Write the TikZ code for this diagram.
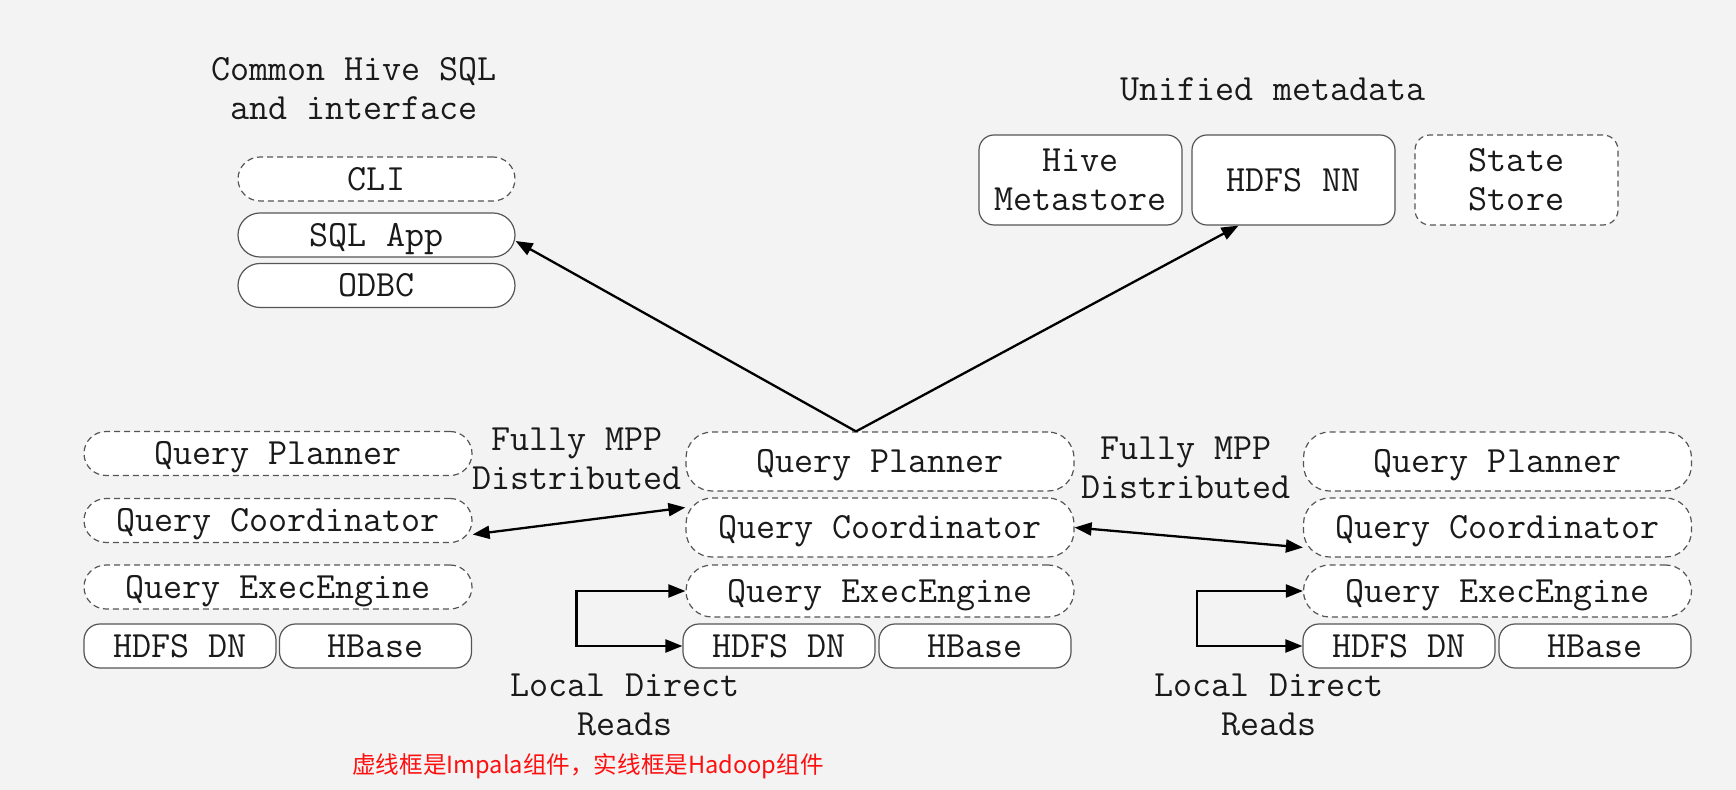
\documentclass[tikz,border=0pt]{standalone}
\usepackage{fontspec}
\newfontfamily\cjk{Noto Sans CJK SC}
\usetikzlibrary{arrows.meta}
\definecolor{bg}{HTML}{F3F3F3}
\definecolor{edge}{HTML}{555555}
\definecolor{txt}{HTML}{1A1A1A}
\definecolor{note}{HTML}{FF1010}
\begin{document}
\begin{tikzpicture}[x=0.5pt,y=-0.5pt,
  lbl/.style={font=\ttfamily\fontsize{18.5}{19.5}\selectfont, text=txt, align=center, inner sep=0pt},
  box/.style={lbl, draw=edge, line width=0.6pt, fill=white, rounded corners=#1},
  box/.default=11pt,
  dbox/.style={box=#1, dash pattern=on 3pt off 2pt},
  dbox/.default=11pt,
  one/.style={text height=11.3pt, text depth=0pt},
  pill/.style={one, minimum width=138.5pt, minimum height=22pt},
  meta/.style={minimum width=101.5pt, minimum height=45pt},
  lq/.style={one, minimum width=194pt, minimum height=22pt},
  mq/.style={one, minimum width=194pt, minimum height=29.5pt},
  mex/.style={one, minimum width=194pt, minimum height=26pt},
  half/.style={one, minimum width=96pt, minimum height=22pt},
  arr/.style={-{Triangle[length=8.5pt,width=6.5pt]}, line width=1.15pt, draw=black},
  darr/.style={{Triangle[length=8.5pt,width=6.5pt]}-{Triangle[length=8.5pt,width=6.5pt]}, line width=1.15pt, draw=black}
]
\fill[bg] (0,0) rectangle (1736,790);
\useasboundingbox (0,0) rectangle (1736,790);

% titles
\node[lbl] (t1) at (354,89) {Common Hive SQL\\and interface};
\node[lbl] (t2) at (1273,89) {Unified metadata};

% interface boxes
\node[dbox, pill] (cli) at (376.5,179) {CLI};
\node[box, pill] (sql) at (376.5,235) {SQL App};
\node[box, pill] (odbc) at (376.5,285.5) {ODBC};

% metadata boxes
\node[box=7.5pt, meta] (hm) at (1080.5,180) {Hive\\Metastore};
\node[box=7.5pt, meta, one] (nn) at (1293.5,180) {HDFS NN};
\node[dbox=7.5pt, meta] (ss) at (1516.5,180) {State\\Store};

% left column
\node[dbox, lq] (lp) at (278,453.5) {Query Planner};
\node[dbox, lq] (lc) at (278,520.5) {Query Coordinator};
\node[dbox, lq] (le) at (278,587) {Query ExecEngine};
\node[box=8pt, half] (ld) at (180,646) {HDFS DN};
\node[box=8pt, half] (lh) at (375.5,646) {HBase};

% middle column
\node[dbox=13pt, mq] (mp) at (880,461.5) {Query Planner};
\node[dbox=13pt, mq] (mc) at (880,527.5) {Query Coordinator};
\node[dbox=13pt, mex] (me) at (880,591) {Query ExecEngine};
\node[box=8pt, half] (md) at (779,646) {HDFS DN};
\node[box=8pt, half] (mh) at (975,646) {HBase};

% right column
\node[dbox=13pt, mq] (rp) at (1497.5,461.5) {Query Planner};
\node[dbox=13pt, mq] (rc) at (1497.5,527.5) {Query Coordinator};
\node[dbox=13pt, mex] (re) at (1497.5,591) {Query ExecEngine};
\node[box=8pt, half] (rd) at (1399,646) {HDFS DN};
\node[box=8pt, half] (rh) at (1595,646) {HBase};

% labels
\node[lbl] (f1) at (577,459) {Fully MPP\\Distributed};
\node[lbl] (f2) at (1186,467.5) {Fully MPP\\Distributed};
\node[lbl] (r1) at (625,704.5) {Local Direct\\Reads};
\node[lbl] (r2) at (1269,704.5) {Local Direct\\Reads};

\node[inner sep=0pt, text=note, font=\cjk\fontsize{11.8}{14}\selectfont] (nt) at (588,766) {虚线框是Impala组件，实线框是Hadoop组件};

% connectors
\coordinate (apex) at ([xshift=-12pt]mp.north);
\draw[arr] (apex) -- ([yshift=-3pt]sql.east);
\draw[arr] (apex) -- ([xshift=-27.5pt]nn.south);
\draw[darr] ([yshift=-7pt]lc.east) -- ([yshift=10pt]mc.west);
\draw[darr] (mc.east) -- ([yshift=-10pt]rc.west);
\draw[darr] (me.west) -- ++(-54.5pt,0) |- (md.west);
\draw[darr] (re.west) -- ++(-53pt,0) |- (rd.west);
\end{tikzpicture}
\end{document}
